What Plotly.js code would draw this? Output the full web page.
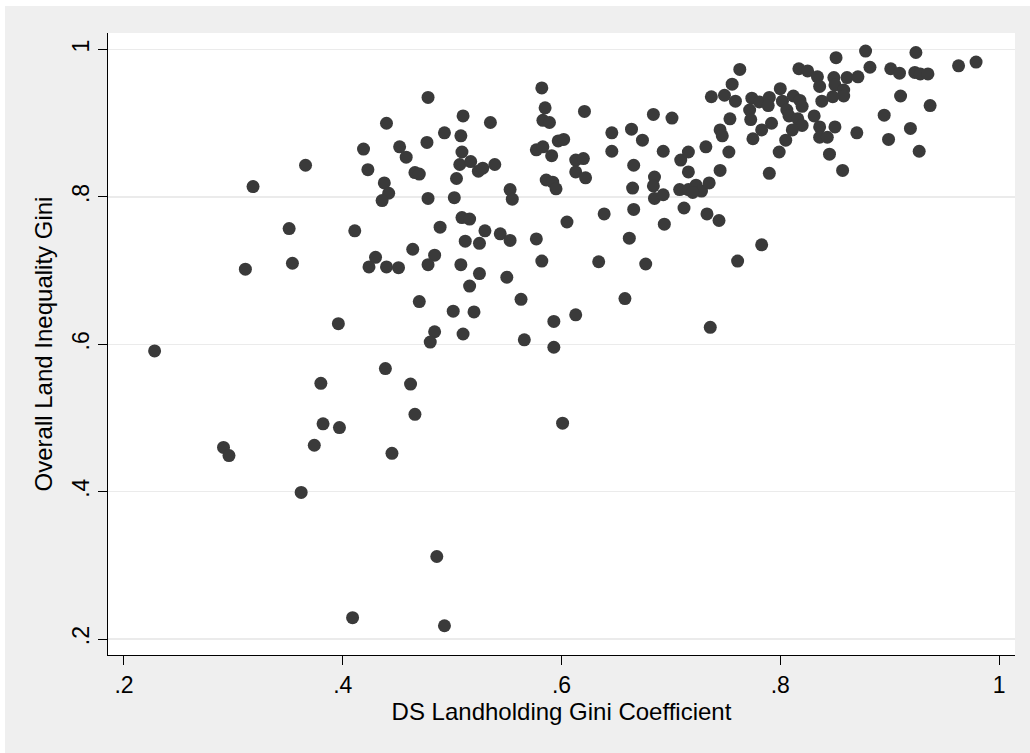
<!DOCTYPE html>
<html>
<head>
<meta charset="utf-8">
<script src="https://cdn.plot.ly/plotly-3.0.1.min.js"></script>
<style>html,body{margin:0;padding:0;background:#fff;}#chart{width:1030px;height:753px;}</style>
</head>
<body>
<div id="chart"></div>
<script>
// DS Landholding Gini Coefficient (x) vs Overall Land Inequality Gini (y)
const dsGini = [
0.440,0.419,0.452,0.458,0.366,0.423,0.438,0.442,0.436,0.318,0.351,0.411,
0.478,0.510,0.535,0.493,0.508,0.477,0.509,0.507,0.517,0.524,0.528,0.539,0.466,0.470,0.504,0.478,0.502,0.553,0.555,
0.582,0.585,0.583,0.589,0.621,0.597,0.602,0.577,0.583,0.591,0.613,0.620,0.613,0.622,0.586,0.592,0.595,
0.646,0.646,0.664,0.674,0.666,0.665,0.684,0.701,0.693,0.709,0.716,0.716,0.685,0.684,0.685,0.693,0.708,0.716,
0.723,0.728,0.720,0.737,0.732,0.712,0.733,0.666,0.639,0.605,0.694,0.489,0.509,0.516,0.530,0.544,
0.553,0.512,0.525,0.577,0.662,0.464,0.484,0.478,0.508,0.525,0.582,0.634,0.677,0.516,0.550,0.563,0.658,
0.470,0.501,0.520,0.593,0.613,0.484,0.480,0.510,0.566,0.593,0.736,0.462,0.466,0.601,
0.311,0.354,0.430,0.424,0.440,0.451,0.396,0.228,0.439,0.380,0.382,0.397,
0.291,0.296,0.374,0.445,0.362,0.409,0.486,0.493,
0.763,0.756,0.749,0.759,0.774,0.781,0.790,0.789,0.772,0.773,0.800,0.802,0.812,0.818,0.820,0.806,0.808,0.816,
0.820,0.811,0.805,0.799,0.790,0.792,0.783,0.775,0.754,0.745,0.747,0.753,0.745,0.735,0.744,0.783,0.761,
0.817,0.825,0.851,0.834,0.836,0.849,0.850,0.861,0.871,0.878,0.882,0.858,0.858,0.848,0.838,0.831,0.836,0.850,
0.836,0.843,0.845,0.857,0.870,0.901,0.909,0.924,0.923,0.928,0.935,0.910,0.895,0.937,0.919,0.899,0.927,0.963,0.979
];
const overallGini = [
0.900,0.865,0.868,0.854,0.843,0.837,0.819,0.805,0.795,0.814,0.757,0.754,
0.935,0.910,0.901,0.887,0.883,0.874,0.861,0.844,0.848,0.835,0.839,0.844,0.833,0.831,0.825,0.798,0.799,0.810,0.797,
0.948,0.921,0.904,0.901,0.916,0.876,0.878,0.864,0.868,0.856,0.850,0.852,0.834,0.826,0.823,0.820,0.811,
0.887,0.862,0.892,0.877,0.843,0.812,0.912,0.907,0.862,0.850,0.861,0.834,0.827,0.815,0.798,0.803,0.810,0.810,
0.816,0.808,0.806,0.936,0.868,0.785,0.777,0.783,0.777,0.766,0.763,0.759,0.772,0.770,0.754,0.750,
0.741,0.740,0.737,0.743,0.744,0.729,0.721,0.708,0.708,0.696,0.713,0.712,0.709,0.679,0.691,0.661,0.662,
0.658,0.645,0.644,0.631,0.640,0.617,0.603,0.614,0.606,0.596,0.623,0.546,0.505,0.493,
0.702,0.710,0.718,0.705,0.705,0.704,0.628,0.591,0.567,0.547,0.492,0.487,
0.460,0.449,0.463,0.452,0.399,0.229,0.312,0.218,
0.973,0.953,0.938,0.930,0.934,0.929,0.935,0.924,0.918,0.905,0.947,0.930,0.937,0.931,0.923,0.918,0.910,0.906,
0.897,0.891,0.877,0.861,0.832,0.900,0.891,0.879,0.906,0.891,0.883,0.861,0.836,0.819,0.768,0.735,0.713,
0.974,0.971,0.989,0.963,0.950,0.962,0.952,0.962,0.963,0.998,0.976,0.945,0.937,0.936,0.930,0.910,0.895,0.895,
0.881,0.881,0.858,0.836,0.887,0.974,0.968,0.996,0.969,0.967,0.967,0.937,0.911,0.924,0.893,0.878,0.862,0.978,0.983
];
const tickVals = [0.2, 0.4, 0.6, 0.8, 1.0];
const tickLabels = ['.2', '.4', '.6', '.8', '1'];
const xTitle = 'DS Landholding Gini Coefficient';
const yTitle = 'Overall Land Inequality Gini';

const FONT = '"Liberation Sans", Arial, Helvetica, sans-serif';
const M = {l: 108, r: 15, t: 33, b: 98};
const W = 1030, H = 753;
const pw = W - M.l - M.r, ph = H - M.t - M.b;
const px = v => (v - M.l) / pw;          // pixel -> paper x
const py = v => (H - M.b - v) / ph;      // pixel -> paper y

const trace = {
  type: 'scatter', mode: 'markers', x: dsGini, y: overallGini,
  marker: {size: 13, color: '#3a3a3a', line: {width: 0}},
  hoverinfo: 'x+y'
};

const axisCommon = {
  tickmode: 'array', tickvals: tickVals, ticktext: tickLabels,
  ticks: 'outside', ticklen: 9, tickwidth: 1, tickcolor: '#000',
  showline: true, linecolor: '#000', linewidth: 1,
  zeroline: false,
  tickfont: {family: FONT, size: 23, color: '#000'}
};

const layout = {
  width: W, height: H,
  margin: M,
  paper_bgcolor: '#efefef',
  plot_bgcolor: '#ffffff',
  showlegend: false,
  font: {family: FONT, color: '#000'},
  xaxis: Object.assign({}, axisCommon, {
    range: [0.1854, 1.0146], showgrid: false,
    title: {text: xTitle, font: {family: FONT, size: 24, color: '#000'}, standoff: 6}
  }),
  yaxis: Object.assign({}, axisCommon, {
    range: [0.1783, 1.0225], showgrid: true, gridcolor: '#ebebeb', gridwidth: 1.5,
    tickangle: -90,
    title: {text: yTitle, font: {family: FONT, size: 24, color: '#000'}, standoff: 8}
  }),
  shapes: [
    {type: 'rect', xref: 'paper', yref: 'paper', x0: px(0), x1: px(W), y0: py(6), y1: py(0), fillcolor: '#ffffff', line: {width: 0}},
    {type: 'rect', xref: 'paper', yref: 'paper', x0: px(0), x1: px(5), y0: py(H), y1: py(0), fillcolor: '#ffffff', line: {width: 0}}
  ]
};

Plotly.newPlot('chart', [trace], layout, {displayModeBar: false, staticPlot: true});
</script>
</body>
</html>
